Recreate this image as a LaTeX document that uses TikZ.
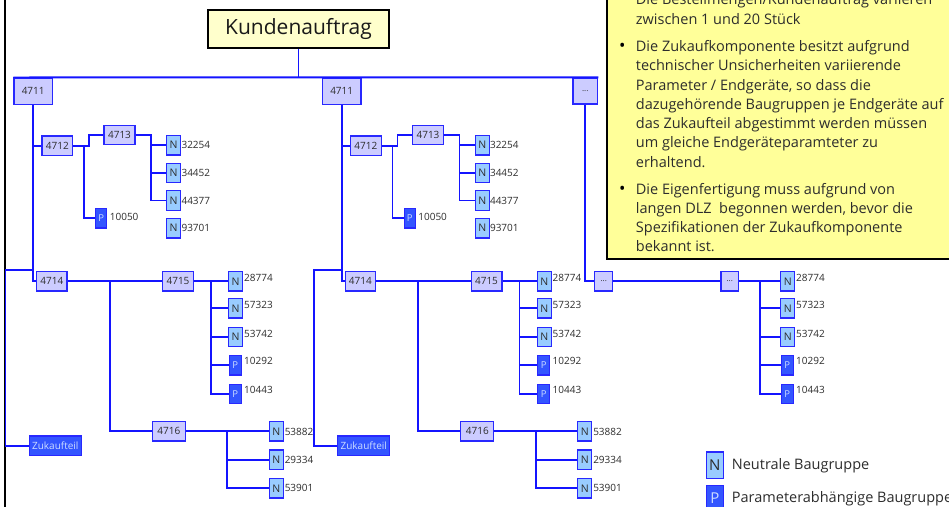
\documentclass[tikz,border=0pt]{standalone}
\usepackage{fontspec}
\setmainfont{Open Sans}
\usetikzlibrary{calc}

\definecolor{lineblue}{RGB}{20,20,255}
\definecolor{boxblue}{RGB}{40,40,255}
\definecolor{lav}{RGB}{204,204,255}
\definecolor{nblue}{RGB}{153,204,255}
\definecolor{pblue}{RGB}{51,85,255}
\definecolor{plight}{RGB}{204,221,255}
\definecolor{txtgray}{RGB}{45,45,45}
\definecolor{notebg}{RGB}{255,255,153}
\definecolor{headbg}{RGB}{255,255,204}

\tikzset{
  x=1pt, y=-1pt,
  conn/.style={draw=lineblue, line width=1.8pt},
  asm/.style={draw=boxblue, fill=lav, line width=1.3pt, inner sep=0pt,
    font=\fontsize{10}{12}\selectfont, text=txtgray},
  nbox/.style={draw=boxblue, fill=nblue, line width=1.3pt, inner sep=0pt,
    minimum width=14pt, minimum height=19.5pt,
    font=\fontsize{10.5}{12}\selectfont, text=txtgray},
  pbox/.style={draw=boxblue, fill=pblue, line width=1.3pt, inner sep=0pt,
    minimum width=12pt, minimum height=19.5pt,
    font=\fontsize{9.5}{12}\selectfont, text=plight},
  num/.style={font=\fontsize{10}{12}\selectfont, text=txtgray, inner sep=0pt, anchor=west},
  notetext/.style={font=\fontsize{14.5}{19.3}\selectfont, text=txtgray,
    inner sep=0pt, align=left, anchor=north west},
  bullet/.style={font=\fontsize{17}{19.3}\selectfont, text=black, inner sep=0pt, anchor=base},
}

% one complete product structure below a 4711 node; #1 = name suffix, #2 = x offset
\newcommand\bomgroup[2]{%
\begin{scope}[xshift=#2pt]
  \node[asm, minimum width=38.3pt, minimum height=26.3pt] (a#1) at (33.2,91.2) {4711};
  \node[asm, minimum width=30.7pt, minimum height=19.3pt] (b#1) at (57.3,145.7) {4712};
  \node[asm, minimum width=31pt, minimum height=19.3pt] (c#1) at (119.5,135) {4713};
  \node[nbox] (n1#1) at (173.7,145.2) {N};
  \node[nbox] (n2#1) at (173.7,173) {N};
  \node[nbox] (n3#1) at (173.7,200.5) {N};
  \node[nbox] (n4#1) at (173.7,228.2) {N};
  \node[pbox, minimum width=11pt] (p1#1) at (101.2,218.2) {P};
  \node[num] (t1#1) at (n1#1.east) {32254};
  \node[num] (t2#1) at (n2#1.east) {34452};
  \node[num] (t3#1) at (n3#1.east) {44377};
  \node[num] (t4#1) at (n4#1.east) {93701};
  \node[num] (tp1#1) at ($(p1#1.east)+(2.3,-1)$) {10050};
  \node[asm, minimum width=30.3pt, minimum height=19.3pt] (d#1) at (51.8,281.3) {4714};
  \node[asm, minimum width=30.7pt, minimum height=19.3pt] (e#1) at (178,281.3) {4715};
  \node[nbox] (n5#1) at (235.7,281.3) {N};
  \node[nbox] (n6#1) at (235.7,308.3) {N};
  \node[nbox] (n7#1) at (235.7,337) {N};
  \node[pbox] (p2#1) at (235.3,365.3) {P};
  \node[pbox] (p3#1) at (235.3,394) {P};
  \node[num] (t5#1) at ($(n5#1.east)+(0.6,-3)$) {28774};
  \node[num] (t6#1) at ($(n6#1.east)+(0.6,-3)$) {57323};
  \node[num] (t7#1) at ($(n7#1.east)+(0.6,-3.5)$) {53742};
  \node[num] (tp2#1) at ($(p2#1.east)+(2,-4)$) {10292};
  \node[num] (tp3#1) at ($(p3#1.east)+(2,-4.5)$) {10443};
  \node[asm, minimum width=33pt, minimum height=19.3pt] (f#1) at (168.8,431.3) {4716};
  \node[nbox] (n8#1) at (276.3,431.3) {N};
  \node[nbox] (n9#1) at (276.3,459.7) {N};
  \node[nbox] (n10#1) at (276.3,488.3) {N};
  \node[num] (t8#1) at ($(n8#1.east)+(0.6,0.8)$) {53882};
  \node[num] (t9#1) at ($(n9#1.east)+(0.6,0.3)$) {29334};
  \node[num] (t10#1) at ($(n10#1.east)+(0.6,0)$) {53901};
  \node[pbox, minimum width=52pt, minimum height=19.7pt, font=\fontsize{10}{12}\selectfont]
    (z#1) at (55.3,445.8) {Zukaufteil};
  % connectors
  \coordinate (zk#1) at (5.5,270);
  \coordinate (jb#1) at (84,145.7);
  \coordinate (jc#1) at (151,135);
  \coordinate (jd#1) at (109.7,281.3);
  \coordinate (je#1) at (211,281.3);
  \coordinate (jf#1) at (227.3,431.3);
  \draw[conn] (a#1.south) |- (d#1.west);
  \draw[conn] (a#1.south |- b#1.west) -- (b#1.west);
  \draw[conn] (b#1.east) -- ++(15.6,0) |- (c#1.west);
  \draw[conn] (jb#1) |- (p1#1.west);
  \draw[conn] (c#1.east) -- (jc#1) |- (n3#1.west);
  \draw[conn] (jc#1 |- n1#1.west) -- (n1#1.west);
  \draw[conn] (jc#1 |- n2#1.west) -- (n2#1.west);
  \draw[conn] (a#1.south |- zk#1) -- (zk#1) |- (z#1.west);
  \draw[conn] (d#1.east) -- (e#1.west);
  \draw[conn] (jd#1) |- (f#1.west);
  \draw[conn] (e#1.east) -- (n5#1.west);
  \draw[conn] (je#1) |- (p3#1.west);
  \draw[conn] (je#1 |- n6#1.west) -- (n6#1.west);
  \draw[conn] (je#1 |- n7#1.west) -- (n7#1.west);
  \draw[conn] (je#1 |- p2#1.west) -- (p2#1.west);
  \draw[conn] (f#1.east) -- (n8#1.west);
  \draw[conn] (jf#1) |- (n10#1.west);
  \draw[conn] (jf#1 |- n9#1.west) -- (n9#1.west);
\end{scope}}

\begin{document}
\begin{tikzpicture}
  \useasboundingbox (0,0) rectangle (949,506);
  \clip (0,0) rectangle (949,506);
  \fill[white] (0,0) rectangle (949,506);

  % left frame edge
  \draw[black, line width=2pt] (5.3,-2) -- (5.3,510);

  % customer order
  \node[draw=black, fill=headbg, line width=1.3pt, minimum width=181pt, minimum height=38pt,
        inner sep=0pt, font=\fontsize{21}{24}\selectfont, text=black!90] (k) at (298.5,29) {Kundenauftrag};

  \bomgroup{A}{0}
  \bomgroup{B}{308.5}

  % further, not yet detailed orders
  \node[asm, minimum width=24.7pt, minimum height=26pt, font=\fontsize{8}{10}\selectfont] (x0) at (585.3,91) {...};
  \node[asm, minimum width=18pt, minimum height=19.3pt, font=\fontsize{8}{10}\selectfont] (x1) at (603.7,281.3) {...};
  \node[asm, minimum width=17.7pt, minimum height=19.3pt, font=\fontsize{8}{10}\selectfont] (x2) at (729.8,281.3) {...};
  \node[nbox] (xn1) at (787.7,281.3) {N};
  \node[nbox] (xn2) at (787.7,308.3) {N};
  \node[nbox] (xn3) at (787.7,337) {N};
  \node[pbox] (xp1) at (787.3,365.3) {P};
  \node[pbox] (xp2) at (787.3,394) {P};
  \node[num] (xt1) at ($(xn1.east)+(0.6,-3)$) {28774};
  \node[num] (xt2) at ($(xn2.east)+(0.6,-3)$) {57323};
  \node[num] (xt3) at ($(xn3.east)+(0.6,-3.5)$) {53742};
  \node[num] (xt4) at ($(xp1.east)+(2,-4)$) {10292};
  \node[num] (xt5) at ($(xp2.east)+(2,-4.5)$) {10443};
  \coordinate (xj) at (760.3,281.3);
  \draw[conn] (x0.south) |- (x1.west);
  \draw[conn] (x1.east) -- (x2.west);
  \draw[conn] (x2.east) -- (xn1.west);
  \draw[conn] (xj) |- (xp2.west);
  \draw[conn] (xj |- xn2.west) -- (xn2.west);
  \draw[conn] (xj |- xn3.west) -- (xn3.west);
  \draw[conn] (xj |- xp1.west) -- (xp1.west);

  % order level bus
  \draw[conn] (k.south) -- (k.south |- aA.north);
  \draw[conn] (aA.north west) -- (x0.north east);

  % remarks
  \draw[black, line width=1.8pt, fill=notebg] (607.3,-10) rectangle (960,259.3);
  \node[bullet] (b1) at (622.3,5) {•};
  \node[notetext] (s1) at (635.7,-9) {\strut Die Bestellmengen/Kundenauftrag variieren\\zwischen 1 und 20 Stück};
  \node[bullet] (b2) at (622.3,51.7) {•};
  \node[notetext] (s2) at (635.7,37.7) {\strut Die Zukaufkomponente besitzt aufgrund\\technischer Unsicherheiten variierende\\Parameter / Endgeräte, so dass die\\dazugehörende Baugruppen je Endgeräte auf\\das Zukaufteil abgestimmt werden müssen\\um gleiche Endgeräteparamteter zu\\erhaltend.};
  \node[bullet] (b3) at (622.3,194.3) {•};
  \node[notetext] (s3) at (635.7,180.3) {\strut Die Eigenfertigung muss aufgrund von\\langen DLZ\ \ begonnen werden, bevor die\\Spezifikationen der Zukaufkomponente\\bekannt ist.};

  % legend
  \node[nbox, minimum width=17pt, minimum height=26.3pt, font=\fontsize{15}{16}\selectfont] (ln) at (714.8,465.2) {N};
  \node[pbox, minimum width=17pt, minimum height=26.3pt, font=\fontsize{15}{16}\selectfont] (lp) at (714.8,498.5) {P};
  \node[anchor=west, inner sep=0pt, font=\fontsize{14.5}{16}\selectfont, text=txtgray] (lnt) at (731.7,466) {Neutrale Baugruppe};
  \node[anchor=west, inner sep=0pt, font=\fontsize{14.5}{16}\selectfont, text=txtgray] (lpt) at (731.7,499) {Parameterabhängige Baugruppe};
\end{tikzpicture}
\end{document}
